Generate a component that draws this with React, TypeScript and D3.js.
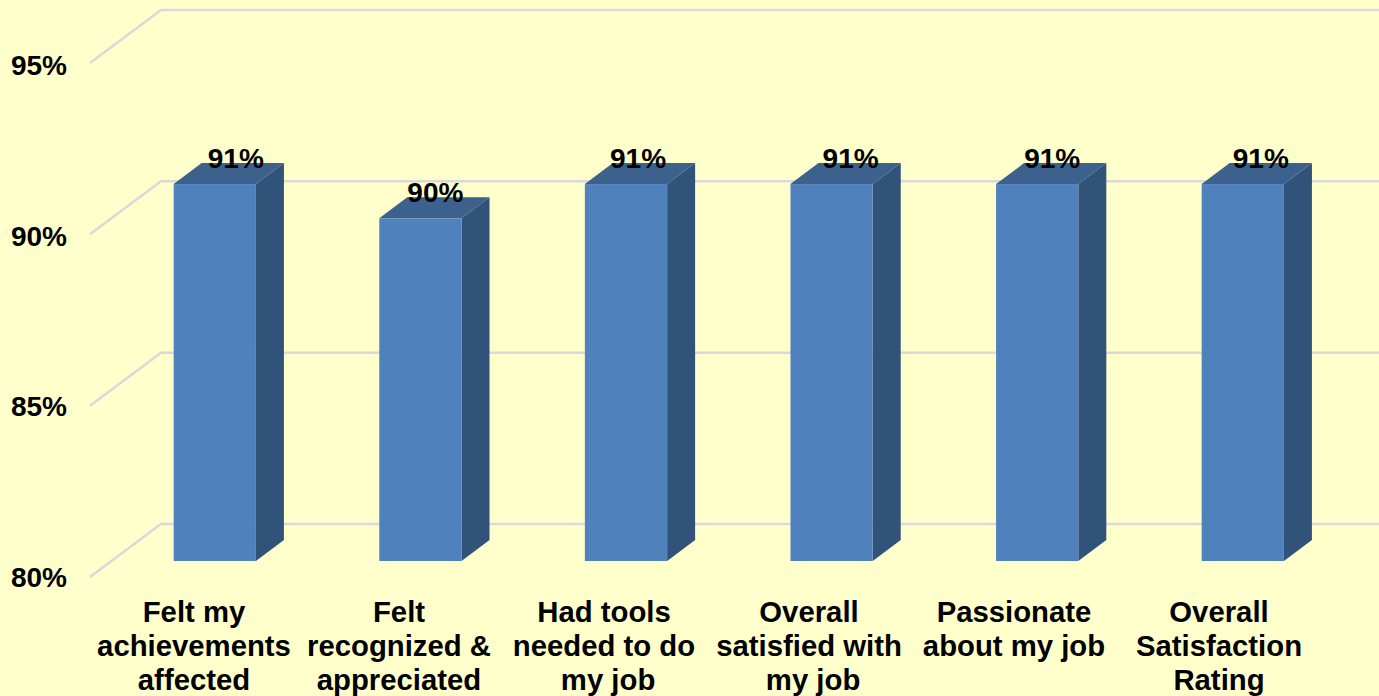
import * as d3 from 'd3';

const categories = [
  ['Felt my', 'achievements', 'affected'],
  ['Felt', 'recognized &', 'appreciated'],
  ['Had tools', 'needed to do', '\u00a0my job'],
  ['Overall', 'satisfied with', '\u00a0my job'],
  ['Passionate', 'about my job'],
  ['Overall', 'Satisfaction', 'Rating'],
];
const values = [91, 90, 91, 91, 91, 91];
const ticks = [80, 85, 90, 95];
// data labels were nudged by hand in the original slide
const labelNudge = [21, 15, 12, 19, 15, 18];

const width = 1379;
const height = 696;
const font = '"Liberation Sans", Arial, sans-serif';

// 3d offsets
const barDepth = { x: 28, y: -21 };
const floorFront = { x: -22, y: 16 };
const floorBack = { x: 49, y: -37 };

export default function App() {
  const x = d3.scaleBand<number>()
    .domain(d3.range(values.length))
    .range([112, 1345.6])
    .paddingInner(0.6)
    .paddingOuter(0.3);
  // category text sits on the front edge of the floor, so it has its own band
  const xLabel = d3.scaleBand<number>()
    .domain(d3.range(values.length))
    .range([91.5, 1321.5]);
  const y = d3.scaleLinear().domain([80, 95]).range([561, 47]);
  const yTick = d3.scaleLinear().domain([80, 95]).range([587, 75]);
  const left = x.range()[0];
  const bw = x.bandwidth();

  return (
    <svg
      width={width}
      height={height}
      viewBox={`0 0 ${width} ${height}`}
      style={{ position: 'fixed', left: 0, top: 0, background: '#FFFFCC' }}
      fontFamily={font}
      fontWeight="bold"
    >
      {ticks.map((t) => (
        <g key={t}>
          <path
            d={d3.line()([
              [left + floorFront.x, y(t) + floorFront.y],
              [left + floorBack.x, y(t) + floorBack.y],
              [width, y(t) + floorBack.y],
            ]) as string}
            fill="none"
            stroke="#D9D9D9"
            strokeWidth={2.5}
          />
          <text x={67} y={yTick(t)} textAnchor="end" fontSize={28}>
            {t}%
          </text>
        </g>
      ))}

      {values.map((v, i) => {
        const x0 = x(i) as number;
        const x1 = x0 + bw;
        const top = y(v);
        const base = y(80);
        const line = d3.line();
        return (
          <g key={i}>
            <path
              d={line([
                [x1, top],
                [x1 + barDepth.x, top + barDepth.y],
                [x1 + barDepth.x, base + barDepth.y],
                [x1, base],
              ]) + 'Z'}
              fill="#325379"
            />
            <path
              d={line([
                [x0, top],
                [x0 + barDepth.x, top + barDepth.y],
                [x1 + barDepth.x, top + barDepth.y],
                [x1, top],
              ]) + 'Z'}
              fill="#3C618D"
            />
            <rect x={x0} y={top} width={bw} height={base - top} fill="#4F81BD" />
          </g>
        );
      })}

      {values.map((v, i) => (
        <text
          key={i}
          x={(x(i) as number) + bw / 2 + labelNudge[i]}
          y={y(v) - 16}
          textAnchor="middle"
          fontSize={28}
        >
          {v}%
        </text>
      ))}

      {categories.map((lines, i) => {
        const cx = (xLabel(i) as number) + xLabel.bandwidth() / 2;
        return (
          <text key={i} x={cx} textAnchor="middle" fontSize={29.3}>
            {lines.map((l, j) => (
              <tspan key={j} x={cx} y={622 + j * 34}>
                {l}
              </tspan>
            ))}
          </text>
        );
      })}
    </svg>
  );
}
